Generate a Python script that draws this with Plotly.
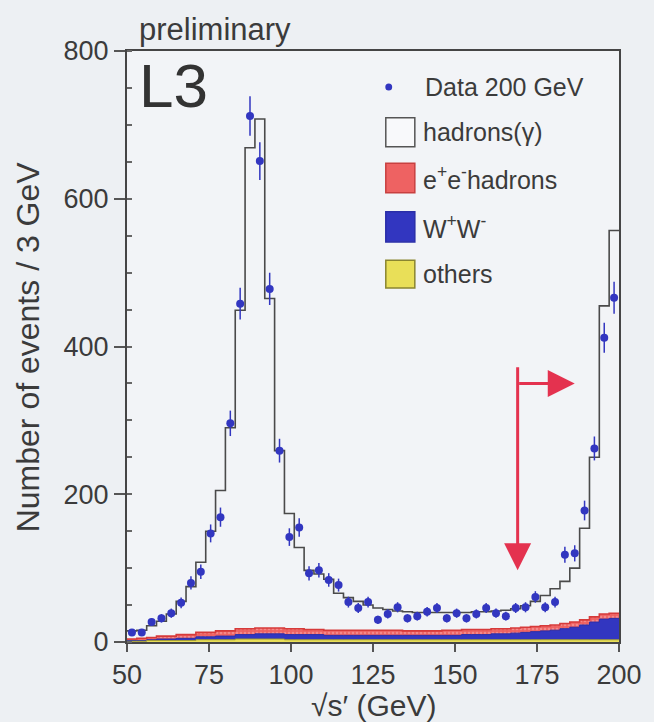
import numpy as np
import plotly.graph_objects as go

# ---------------- data ----------------
bin_edges = list(range(50, 201, 3))            # 3 GeV bins, 50..200
bin_centers = [lo + 1.5 for lo in bin_edges[:-1]]

data_counts = [13, 13, 27, 32, 39, 53, 80, 95, 147, 169,
               296, 458, 712, 651, 478, 259, 142, 155, 93, 97,
               84, 77, 54, 46, 54, 30, 38, 47, 32, 35,
               41, 46, 32, 39, 32, 38, 46, 39, 35, 46,
               47, 61, 47, 54, 118, 120, 178, 262, 412, 466]

mc_total = [15, 16, 22, 28, 38, 55, 75, 108, 150, 205,
            290, 449, 669, 708, 465, 259, 174, 128, 97, 92,
            85, 66, 60, 55, 50, 46, 44, 42, 41, 40,
            40, 40, 40, 40, 40, 41, 41, 42, 43, 45,
            49, 55, 63, 72, 82, 100, 154, 250, 455, 557]

others = [1, 1, 2, 2, 2, 2, 2, 3, 3, 3,
          3, 4, 4, 4, 4, 4, 3, 3, 3, 3,
          3, 3, 3, 3, 3, 3, 3, 3, 3, 3,
          3, 3, 3, 3, 3, 3, 3, 3, 3, 3,
          3, 3, 3, 3, 3, 3, 3, 3, 3, 3]

ww = [1, 1, 1, 2, 2, 3, 3, 4, 4, 5,
      5, 6, 6, 7, 7, 7, 7, 7, 7, 7,
      6, 6, 6, 6, 6, 6, 6, 6, 6, 6,
      6, 6, 6, 6, 7, 7, 7, 8, 8, 9,
      10, 11, 12, 13, 15, 17, 20, 24, 28, 29]

ee_hadrons = [2, 3, 3, 4, 4, 5, 5, 6, 6, 7,
              7, 8, 8, 8, 8, 8, 8, 8, 7, 7,
              7, 7, 7, 7, 7, 7, 7, 7, 6, 6,
              6, 6, 7, 7, 7, 7, 7, 7, 7, 7,
              7, 7, 7, 7, 7, 7, 7, 7, 7, 7]

legend_labels = ["Data 200 GeV", "hadrons(γ)", "e<sup>+</sup>e<sup>-</sup>hadrons",
                 "W<sup>+</sup>W<sup>-</sup>", "others"]

# ---------------- derived stacks ----------------
cum_others = np.array(others, dtype=float)
cum_ww = cum_others + np.array(ww)
cum_ee = cum_ww + np.array(ee_hadrons)
total = np.array(mc_total, dtype=float)


def step_y(arr):
    arr = list(arr)
    return arr + [arr[-1]]


TXT = "#3b3b3b"
FONT = "Liberation Sans, Arial, sans-serif"
BLUE = "#3236c0"
YELLOW = "#e9df58"

fig = go.Figure()

fig.add_trace(go.Scatter(x=bin_edges, y=step_y(cum_ee), mode="lines", line_shape="hv",
                         line=dict(color="#d63a3a", width=1.6), fill="tozeroy",
                         fillcolor="#f07a7a",
                         fillpattern=dict(shape=".", bgcolor="#ee6262", fgcolor="#f8b0b0",
                                          size=4, solidity=0.35),
                         hoverinfo="skip", showlegend=False))
fig.add_trace(go.Scatter(x=bin_edges, y=step_y(cum_ww), mode="lines", line_shape="hv",
                         line=dict(color="#2a2ea8", width=1), fill="tozeroy",
                         fillcolor=BLUE, hoverinfo="skip", showlegend=False))
fig.add_trace(go.Scatter(x=bin_edges, y=step_y(cum_others), mode="lines", line_shape="hv",
                         line=dict(color="#a39d35", width=1), fill="tozeroy",
                         fillcolor=YELLOW, hoverinfo="skip", showlegend=False))
fig.add_trace(go.Scatter(x=bin_edges, y=step_y(total), mode="lines", line_shape="hv",
                         line=dict(color="#4a4a4a", width=1.6),
                         hoverinfo="skip", showlegend=False))
fig.add_trace(go.Scatter(x=bin_centers, y=data_counts, mode="markers",
                         marker=dict(color=BLUE, size=8),
                         error_y=dict(type="data", array=np.sqrt(data_counts), width=0,
                                      thickness=1.5, color=BLUE),
                         showlegend=False))

# red arrows (cut indication)
ARROW = "#e4324f"
fig.add_annotation(x=169.1, y=97, ax=169.1, ay=374, xref="x", yref="y", axref="x", ayref="y",
                   text="", showarrow=True, arrowhead=2, arrowsize=1.8, arrowwidth=3,
                   arrowcolor=ARROW)
fig.add_annotation(x=186.5, y=350, ax=169.1, ay=350, xref="x", yref="y", axref="x", ayref="y",
                   text="", showarrow=True, arrowhead=2, arrowsize=1.8, arrowwidth=3,
                   arrowcolor=ARROW)

# texts
fig.add_annotation(x=0.02, y=0.941, xref="paper", yref="paper", text="L3", showarrow=False,
                   xanchor="left", yanchor="middle", font=dict(size=62, color="#333", family=FONT))
fig.add_annotation(x=0.02, y=1.036, xref="paper", yref="paper", text="preliminary", showarrow=False,
                   xanchor="left", yanchor="middle", font=dict(size=31, color=TXT, family=FONT))
fig.add_annotation(x=0.502, y=-0.108, xref="paper", yref="paper",
                   text="√s′ (GeV)", showarrow=False,
                   xanchor="center", yanchor="middle", font=dict(size=30, color=TXT, family=FONT))
fig.add_annotation(x=-0.2016, y=0.5, xref="paper", yref="paper", text="Number of events / 3 GeV",
                   textangle=-90, showarrow=False, xanchor="center", yanchor="middle",
                   font=dict(size=32, color=TXT, family=FONT))

# custom legend
LFONT = dict(size=25, color=TXT, family=FONT)
fig.add_shape(type="circle", xref="paper", yref="paper", x0=0.525, x1=0.539, y0=0.933, y1=0.945,
              fillcolor=BLUE, line=dict(width=0))
fig.add_annotation(x=0.601, y=0.939, xref="paper", yref="paper", text=legend_labels[0],
                   showarrow=False, xanchor="left", yanchor="middle", font=LFONT)
boxes = [
    (0.838, 0.887, "#f8f9fb", "#555"),
    (0.760, 0.810, "#ee6262", "#c84040"),
    (0.677, 0.728, BLUE, "#2a2ea8"),
    (0.599, 0.646, YELLOW, "#8a8530"),
]
for (y0, y1, fc, lc), lab in zip(boxes, legend_labels[1:]):
    fig.add_shape(type="rect", xref="paper", yref="paper", x0=0.526, x1=0.585, y0=y0, y1=y1,
                  fillcolor=fc, line=dict(color=lc, width=1.5))
    fig.add_annotation(x=0.597, y=(y0 + y1) / 2, xref="paper", yref="paper", text=lab,
                       showarrow=False, xanchor="left", yanchor="middle", font=LFONT)

fig.update_layout(
    width=654, height=722,
    margin=dict(l=127, r=31, t=51, b=80),
    paper_bgcolor="#edf0f3",
    plot_bgcolor="#f2f4f7",
    showlegend=False,
    font=dict(family=FONT, color=TXT),
    xaxis=dict(range=[50, 200], tickvals=[50, 75, 100, 125, 150, 175, 200],
               showgrid=False, zeroline=False, showline=True, linecolor="#454545",
               linewidth=2, mirror=True, ticks="outside", ticklen=8, tickwidth=1.5,
               tickcolor="#555", tickfont=dict(size=27, color=TXT, family=FONT)),
    yaxis=dict(range=[0, 800], tickvals=[0, 200, 400, 600, 800],
               showgrid=False, zeroline=False, showline=True, linecolor="#454545",
               linewidth=2, mirror=True, ticks="outside", ticklen=11, tickwidth=1.5,
               tickcolor="#555", tickfont=dict(size=27, color=TXT, family=FONT),
               minor=dict(ticks="inside", ticklen=5, dtick=50, tickcolor="#666")),
)

fig.write_html("out.html")
